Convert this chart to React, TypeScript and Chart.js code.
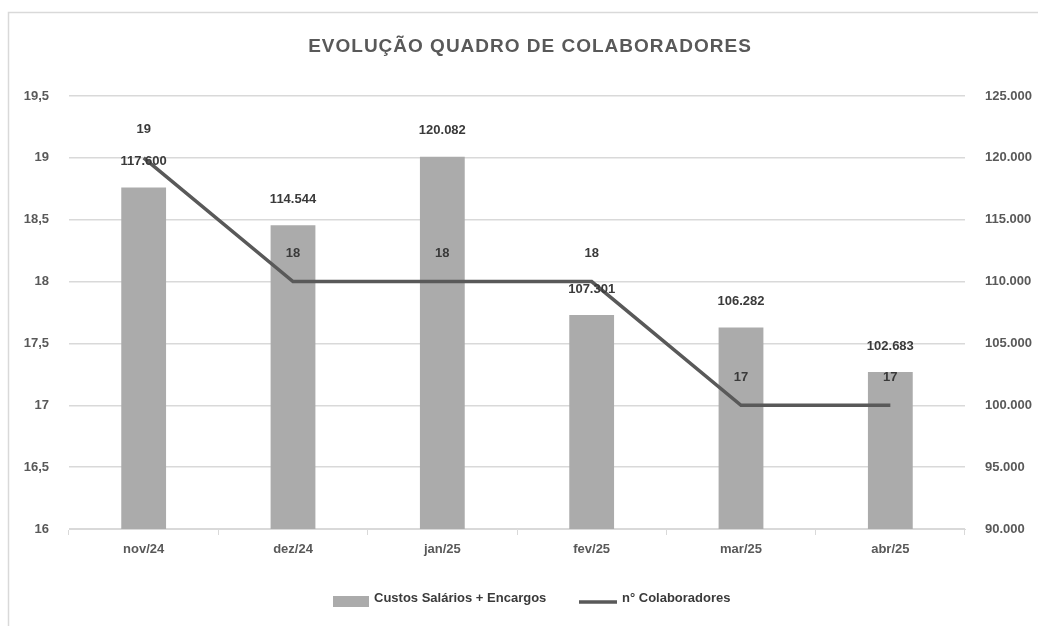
import React, { useEffect, useRef } from "react";
import { Chart, registerables } from "chart.js";

Chart.register(...registerables);

const categories = ["nov/24", "dez/24", "jan/25", "fev/25", "mar/25", "abr/25"];
const custos = [117600, 114544, 120082, 107301, 106282, 102683];
const colaboradores = [19, 18, 18, 18, 17, 17];
const titleText = "EVOLUÇÃO QUADRO DE COLABORADORES";
const legendBar = "Custos Salários + Encargos";
const legendLine = "n° Colaboradores";

const FONT = "'Liberation Sans', Arial, sans-serif";
const GRAY = "#595959";
const LABEL = "#3a3a3a";
const BAR = "#ababab";
const GRID = "#d9d9d9";

const fmtThousands = (v: number) =>
  Math.round(v).toString().replace(/\B(?=(\d{3})+(?!\d))/g, ".");
const fmtDecimal = (v: number) => String(v).replace(".", ",");

const decorPlugin = {
  id: "decor",
  beforeDraw(chart: any) {
    const ctx = chart.ctx;
    ctx.save();
    ctx.fillStyle = "#ffffff";
    ctx.fillRect(0, 0, chart.width, chart.height);
    ctx.strokeStyle = GRID;
    ctx.lineWidth = 1.5;
    ctx.beginPath();
    ctx.moveTo(8.5, chart.height);
    ctx.lineTo(8.5, 12.5);
    ctx.lineTo(chart.width, 12.5);
    ctx.stroke();
    ctx.restore();
  },
  afterDraw(chart: any) {
    const ctx = chart.ctx;
    ctx.save();
    // title
    ctx.fillStyle = GRAY;
    ctx.font = `bold 19px ${FONT}`;
    ctx.textAlign = "center";
    ctx.textBaseline = "middle";
    (ctx as any).letterSpacing = "1px";
    ctx.fillText(titleText, 530, 47);
    (ctx as any).letterSpacing = "0px";

    // data labels
    ctx.font = `bold 13px ${FONT}`;
    ctx.fillStyle = LABEL;
    const barMeta = chart.getDatasetMeta(0);
    barMeta.data.forEach((el: any, i: number) => {
      ctx.fillText(fmtThousands(custos[i]), el.x, el.y - 26);
    });
    const lineMeta = chart.getDatasetMeta(1);
    lineMeta.data.forEach((el: any, i: number) => {
      ctx.fillText(fmtDecimal(colaboradores[i]), el.x, el.y - 28);
    });

    // legend
    ctx.fillStyle = BAR;
    ctx.fillRect(333, 596, 36, 11);
    ctx.fillStyle = LABEL;
    ctx.font = `bold 13px ${FONT}`;
    ctx.textAlign = "left";
    ctx.fillText(legendBar, 374, 598);
    ctx.strokeStyle = GRAY;
    ctx.lineWidth = 3.5;
    ctx.beginPath();
    ctx.moveTo(579, 602);
    ctx.lineTo(617, 602);
    ctx.stroke();
    ctx.fillText(legendLine, 622, 598);
    ctx.restore();
  },
};

export default function App() {
  const ref = useRef<HTMLCanvasElement | null>(null);
  useEffect(() => {
    if (!ref.current) return;
    const chart = new Chart(ref.current, {
      type: "bar",
      data: {
        labels: categories,
        datasets: [
          {
            type: "bar",
            label: legendBar,
            data: custos,
            backgroundColor: BAR,
            yAxisID: "y1",
            categoryPercentage: 1,
            barPercentage: 0.3,
            order: 2,
          },
          {
            type: "line",
            label: legendLine,
            data: colaboradores,
            borderColor: GRAY,
            backgroundColor: GRAY,
            borderWidth: 3.5,
            pointRadius: 0,
            tension: 0,
            yAxisID: "y",
            order: 1,
          } as any,
        ],
      },
      options: {
        animation: false,
        responsive: false,
        maintainAspectRatio: false,
        layout: { padding: { top: 96, left: 0, right: 0, bottom: 0 } },
        plugins: {
          legend: { display: false },
          title: { display: false },
          tooltip: { enabled: false },
        },
        scales: {
          x: {
            offset: true,
            grid: {
              display: true,
              drawOnChartArea: false,
              drawTicks: true,
              tickLength: 6,
              offset: true,
              color: GRID,
            },
            border: { display: true, color: GRID },
            ticks: {
              color: GRAY,
              font: { family: FONT, size: 13, weight: "bold" },
              padding: 7,
            },
            afterFit(scale: any) {
              scale.height = 97;
            },
          },
          y: {
            position: "left",
            min: 16,
            max: 19.5,
            ticks: {
              stepSize: 0.5,
              color: GRAY,
              font: { family: FONT, size: 13, weight: "bold" },
              padding: 20,
              callback: (v: any) => fmtDecimal(Number(v)),
            },
            grid: { color: GRID, drawTicks: false, lineWidth: 1.5 },
            border: { display: false },
            afterFit(scale: any) {
              scale.width = 69;
            },
          },
          y1: {
            position: "right",
            min: 90000,
            max: 125000,
            ticks: {
              stepSize: 5000,
              color: GRAY,
              font: { family: FONT, size: 13, weight: "bold" },
              padding: 20,
              callback: (v: any) => fmtThousands(Number(v)),
            },
            grid: { display: false, drawTicks: false },
            border: { display: false },
            afterFit(scale: any) {
              scale.width = 73;
            },
          },
        },
      },
      plugins: [decorPlugin],
    });
    return () => chart.destroy();
  }, []);

  return (
    <div style={{ position: "fixed", left: 0, top: 0, width: 1038, height: 626, background: "#fff" }}>
      <canvas ref={ref} width={1038} height={626} style={{ display: "block", width: 1038, height: 626 }} />
    </div>
  );
}
